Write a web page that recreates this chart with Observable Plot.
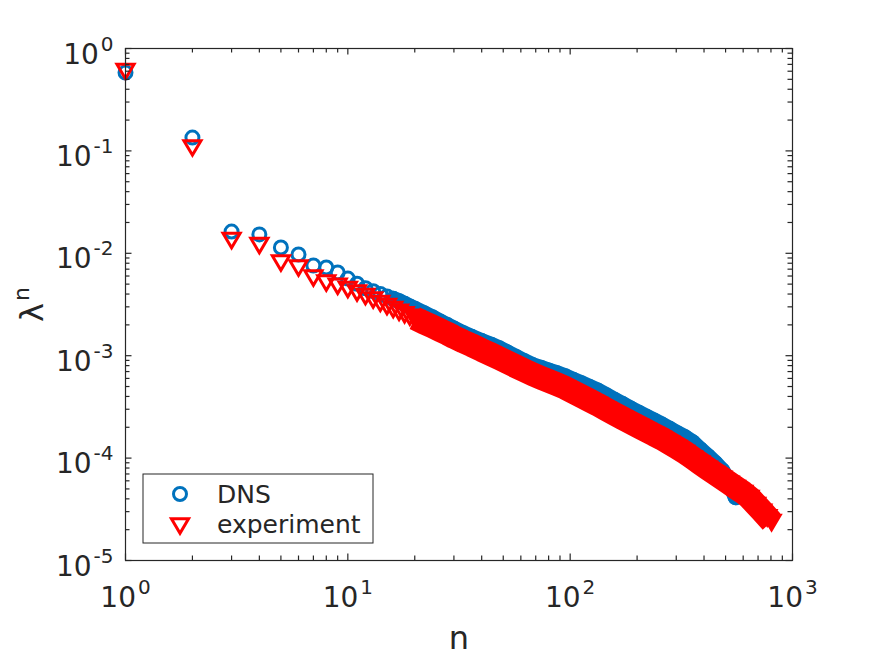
<!DOCTYPE html>
<html>
<head>
<meta charset="utf-8">
<script src="https://cdn.jsdelivr.net/npm/d3@7"></script>
<script src="https://cdn.jsdelivr.net/npm/@observablehq/plot@0.6"></script>
<style>
  html, body { margin: 0; padding: 0; background: #ffffff; }
  #chart svg { font-family: "DejaVu Sans", sans-serif; display: block; }
</style>
</head>
<body>
<div id="chart"></div>
<script>
// ---- data ----
const seriesNames = ["DNS", "experiment"];

const dnsN = [1,2,3,4,5,6,7,8,9,10,11,12,13,14,15,16,17,18,19,20,
  22,24,26,28,30,33,36,40,44,48,52,57,62,68,74,80,87,95,
  103,112,122,133,145,158,172,187,203,220,238,258,280,303,328,355,384,415,448,483,520,555];
const dnsLambda = [0.583,0.135,0.0163,0.0153,0.0114,0.00973,0.00760,0.00727,0.00649,0.00567,
  0.00504,0.00456,0.00427,0.00401,0.00379,0.00359,0.00341,0.00321,0.00302,0.00287,
  0.00260,0.00237,0.00216,0.00199,0.00184,
  0.00166,0.00153,0.00139,0.00128,0.00118,0.00108,9.73e-4,8.86e-4,8.06e-4,7.59e-4,7.17e-4,6.75e-4,6.31e-4,
  5.83e-4,5.39e-4,4.96e-4,4.56e-4,4.12e-4,3.72e-4,3.37e-4,3.05e-4,2.78e-4,2.54e-4,2.33e-4,2.13e-4,
  1.93e-4,1.75e-4,1.60e-4,1.43e-4,1.22e-4,1.05e-4,8.98e-5,7.57e-5,5.91e-5,4.15e-5];

const expN = [1,2,3,4,5,6,7,8,9,10,11,12,13,14,15,16,17,18,19,20,
  22,24,26,28,30,33,36,40,44,48,52,57,62,68,74,80,87,95,
  103,112,122,133,145,158,172,187,203,220,238,258,280,303,328,355,384,415,448,483,520,555,
  600,640,685,730,770,805];
const expLambda = [0.596,0.107,0.0133,0.0119,0.00804,0.00719,0.00574,0.00513,0.00476,0.00443,
  0.00410,0.00379,0.00350,0.00324,0.00302,0.00283,0.00266,0.00251,0.00238,0.00227,
  0.00206,0.00189,0.00174,0.00161,0.00149,
  0.00135,0.00124,0.00111,0.00101,9.22e-4,8.47e-4,7.69e-4,7.04e-4,6.41e-4,5.95e-4,5.55e-4,5.15e-4,4.75e-4,
  4.33e-4,3.95e-4,3.59e-4,3.26e-4,2.94e-4,2.65e-4,2.40e-4,2.18e-4,1.99e-4,1.82e-4,1.66e-4,1.52e-4,
  1.37e-4,1.24e-4,1.11e-4,9.85e-5,8.74e-5,7.77e-5,6.93e-5,6.21e-5,5.56e-5,5.05e-5,
  4.51e-5,4.03e-5,3.44e-5,2.96e-5,2.61e-5,2.35e-5];

const xTickExponents = [0, 1, 2, 3];
const yTickExponents = [0, -1, -2, -3, -4, -5];
const xLabel = "n";
const yLabel = "λ^n";

// ---- build tables ----
const dns = dnsN.map((n, i) => ({n, v: dnsLambda[i], s: seriesNames[0]}));
const exp = expN.map((n, i) => ({n, v: expLambda[i], s: seriesNames[1]}));
// where the markers are packed so densely that they merge into one band
const dnsDense = dns.filter(d => d.n >= 16);
const expSparse = exp.filter(d => d.n < 20);
const expDense = exp.filter(d => d.n >= 20);

const xMajor = xTickExponents.map(e => 10 ** e);
const yMajor = yTickExponents.map(e => 10 ** e);
const xMinor = xMajor.slice(0, -1).flatMap(d => [2,3,4,5,6,7,8,9].map(k => k * d));
const yMinor = yMajor.slice(1).flatMap(d => [2,3,4,5,6,7,8,9].map(k => k * d));

// ---- styles ----
const W = 875, H = 656;
const mL = 125, mR = 83, mT = 48, mB = 96;
const plotW = W - mL - mR, plotH = H - mT - mB;
const axisColor = "#262626";
const blue = "#0072BD", red = "#FF0000";
const majorLen = 6.5, minorLen = 4.5;

const triangleDown = {
  draw(context, size) {
    const r = Math.sqrt(size / Math.PI);
    const w = r * 1.36, h = r * 1.15;
    context.moveTo(-w, -h);
    context.lineTo(w, -h);
    context.lineTo(0, h);
    context.closePath();
  }
};

const chart = Plot.plot({
  width: W, height: H,
  marginLeft: mL, marginRight: mR, marginTop: mT, marginBottom: mB,
  x: {type: "log", domain: [1, 1000], axis: null},
  y: {type: "log", domain: [1e-5, 1], axis: null},
  style: {background: "#ffffff", color: axisColor, fontFamily: "DejaVu Sans, sans-serif", overflow: "visible"},
  marks: [
    Plot.line(dnsDense, {x: "n", y: "v", stroke: blue, strokeWidth: 16, strokeLinecap: "round", strokeLinejoin: "round"}),
    Plot.dot(dns, {x: "n", y: "v", r: 6.5, symbol: "circle", fill: "none", stroke: blue, strokeWidth: 3}),
    Plot.line(expDense, {x: "n", y: "v", dy: -1, stroke: red, strokeWidth: 24, strokeLinecap: "butt", strokeLinejoin: "round"}),
    Plot.dot(expSparse, {x: "n", y: "v", r: 6.3, symbol: triangleDown, fill: "none", stroke: red, strokeWidth: 3, strokeLinejoin: "miter"}),
    Plot.dot(expDense, {x: "n", y: "v", r: 6.3, symbol: triangleDown, fill: red, stroke: red, strokeWidth: 3, strokeLinejoin: "miter"}),
    // tick marks (inside, on all four sides)
    Plot.tickX(xMajor, {x: d => d, insetTop: plotH - majorLen, stroke: axisColor, strokeWidth: 1.2}),
    Plot.tickX(xMinor, {x: d => d, insetTop: plotH - minorLen, stroke: axisColor, strokeWidth: 1.2}),
    Plot.tickX(xMajor, {x: d => d, insetBottom: plotH - majorLen, stroke: axisColor, strokeWidth: 1.2}),
    Plot.tickX(xMinor, {x: d => d, insetBottom: plotH - minorLen, stroke: axisColor, strokeWidth: 1.2}),
    Plot.tickY(yMajor, {y: d => d, insetRight: plotW - majorLen, stroke: axisColor, strokeWidth: 1.2}),
    Plot.tickY(yMinor, {y: d => d, insetRight: plotW - minorLen, stroke: axisColor, strokeWidth: 1.2}),
    Plot.tickY(yMajor, {y: d => d, insetLeft: plotW - majorLen, stroke: axisColor, strokeWidth: 1.2}),
    Plot.tickY(yMinor, {y: d => d, insetLeft: plotW - minorLen, stroke: axisColor, strokeWidth: 1.2}),
    Plot.frame({stroke: axisColor, strokeWidth: 1.2}),
    // tick labels
    Plot.text(xTickExponents, {x: e => 10 ** e, frameAnchor: "bottom", dy: 46, lineAnchor: "bottom",
      textAnchor: "middle", text: e => `10^${e}`, fontSize: 28, fill: axisColor}),
    Plot.text(yTickExponents, {y: e => 10 ** e, frameAnchor: "left", dx: -12, dy: 15, lineAnchor: "bottom",
      textAnchor: "end", text: e => `10^${e}`, fontSize: 28, fill: axisColor}),
    // axis labels
    Plot.text([xLabel], {frameAnchor: "bottom", dy: 88, lineAnchor: "bottom", textAnchor: "middle",
      text: d => d, fontSize: 32, fill: axisColor}),
    Plot.text([yLabel], {frameAnchor: "left", dx: -83, rotate: -90, lineAnchor: "bottom", textAnchor: "middle",
      text: d => d, fontSize: 32, fill: axisColor})
  ]
});

// superscripts
const ns = "http://www.w3.org/2000/svg";
chart.querySelectorAll("text").forEach(t => {
  const s = t.textContent;
  const i = s.indexOf("^");
  if (i < 0) return;
  const g = t.closest("g[font-size]");
  const fs = g ? parseFloat(g.getAttribute("font-size")) : 28;
  const big = fs > 30;
  t.textContent = "";
  const a = document.createElementNS(ns, "tspan");
  a.textContent = s.slice(0, i);
  const b = document.createElementNS(ns, "tspan");
  b.textContent = s.slice(i + 1);
  b.setAttribute("font-size", big ? 22 : 20);
  b.setAttribute("dy", big ? -14 : -13);
  b.setAttribute("dx", 2);
  t.appendChild(a);
  t.appendChild(b);
});

// legend (inside the axes, lower left)
const svg = d3.select(chart);
const lg = svg.append("g").attr("class", "legend").attr("text-anchor", "start");
const lx = mL + 18, ly = mT + plotH - 86, lw = 230, lh = 69;
lg.append("rect").attr("x", lx).attr("y", ly).attr("width", lw).attr("height", lh)
  .attr("fill", "#ffffff").attr("stroke", axisColor).attr("stroke-width", 1);
lg.append("circle").attr("cx", lx + 37).attr("cy", ly + 20).attr("r", 6.5)
  .attr("fill", "none").attr("stroke", blue).attr("stroke-width", 3);
lg.append("path").attr("d", d3.symbol(triangleDown, Math.PI * 6.3 * 6.3)())
  .attr("transform", `translate(${lx + 37},${ly + 52})`)
  .attr("fill", "none").attr("stroke", red).attr("stroke-width", 3).attr("stroke-linejoin", "miter");
lg.append("text").attr("x", lx + 74).attr("y", ly + 29).attr("font-size", 25)
  .attr("text-anchor", "start").attr("fill", axisColor).text(seriesNames[0]);
lg.append("text").attr("x", lx + 74).attr("y", ly + 59).attr("font-size", 25)
  .attr("text-anchor", "start").attr("fill", axisColor).text(seriesNames[1]);

document.getElementById("chart").appendChild(chart);
</script>
</body>
</html>
